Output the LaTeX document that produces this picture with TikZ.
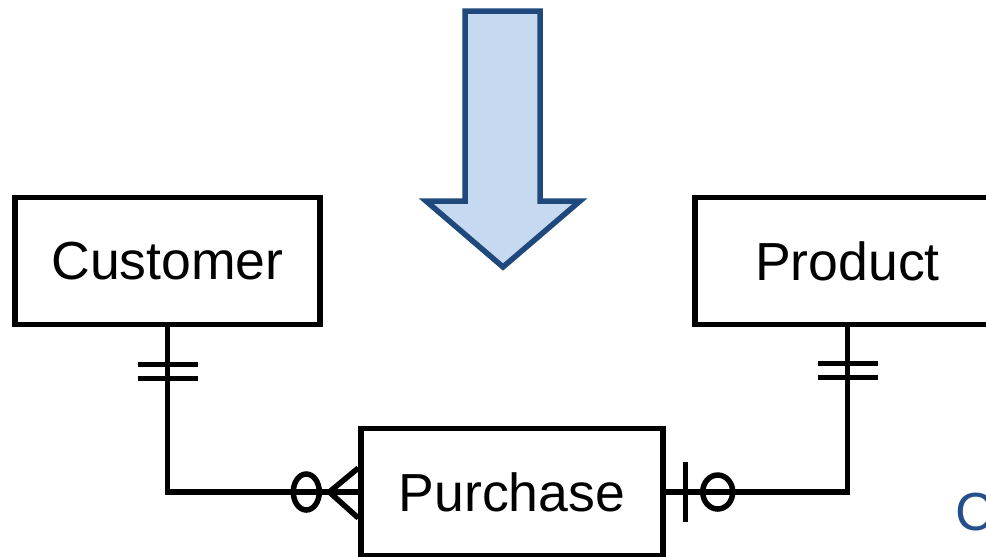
\documentclass[tikz,border=0pt]{standalone}
\usepackage{fontspec}
\setmainfont{Liberation Sans}
\usetikzlibrary{calc}
\definecolor{arrowblue}{RGB}{31,73,125}
\definecolor{arrowfill}{RGB}{198,217,241}
\definecolor{textblue}{RGB}{37,78,140}

\begin{document}
\begin{tikzpicture}[x=0.02cm, y=-0.02cm,
    entity/.style={rectangle, draw, line width=0.11cm, minimum width=6.1cm, minimum height=2.54cm, font=\fontsize{30.5}{36}\selectfont},
    link/.style={line width=0.11cm},
    bigarrow/.style={draw=arrowblue, fill=arrowfill, line width=0.11cm, line join=miter}]

    \useasboundingbox (0,0) rectangle (986,556);
    \clip (0,0) rectangle (986,556);

    \draw [bigarrow] (465,11) -- (540,11) -- (540,201) -- (580,201) -- (503,267) -- (426,201) -- (465,201) -- cycle;

    \node [entity] (customer) at (167.5,261) {Customer};
    \node [entity] (product) at (847.5,261) {Product};
    \node [entity, minimum width=6.04cm] (purchase) at (512,492) {Purchase};
    \node [font=\fontsize{30.5}{36}\selectfont, text=textblue, anchor=base west, inner sep=0pt] (nextlabel) at (955,530) {C};

    \draw [link] (customer.south) |- (purchase.west);
    \draw [link] (product.south) |- (purchase.east);

    % one and only one
    \draw [link] ($(customer.south)+(-30,37)$) -- ++(60,0);
    \draw [link] ($(customer.south)+(-30,51)$) -- ++(60,0);
    \draw [link] ($(product.south)+(-30,36)$) -- ++(60,0);
    \draw [link] ($(product.south)+(-30,50)$) -- ++(60,0);

    % zero or many
    \draw [link] ($(purchase.west)+(0,-24)$) -- ($(purchase.west)+(-29,0)$) -- ($(purchase.west)+(0,26)$);
    \draw [link] ($(purchase.west)+(-52,0)$) ellipse [x radius=13, y radius=18];

    % zero or one
    \draw [link] ($(purchase.east)+(20,-30)$) -- ++(0,60);
    \draw [link] ($(purchase.east)+(52,0)$) ellipse [x radius=15, y radius=17];
\end{tikzpicture}
\end{document}
